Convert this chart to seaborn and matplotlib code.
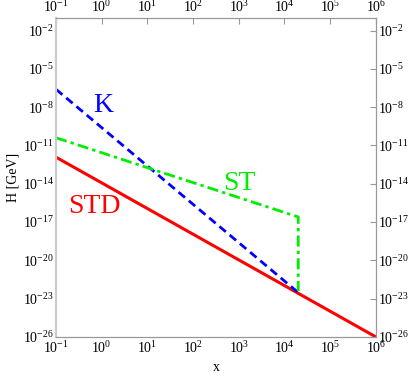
import numpy as np
import matplotlib
matplotlib.use("Agg")
import matplotlib.pyplot as plt
import matplotlib.ticker as mticker
import seaborn as sns
import pandas as pd

# values (log-log)
std_x = [1e-1, 1e6]
std_h = [1.2e-12, 1e-26]
k_x = [1e-1, 2e4]
k_h = [2.5e-7, 3e-23]
st_x = [1e-1, 2e4, 2e4]
st_h = [4e-11, 2.5e-17, 4e-23]

XTICKS = [10.0**i for i in range(-1, 7)]
YTICKS = [10.0**i for i in range(-26, 0, 3)]
GRAY = "#999999"

sns.set_style("white")
plt.rcParams["font.family"] = ["Liberation Serif", "DejaVu Serif"]
plt.rcParams["mathtext.fontset"] = "stix"

fig = plt.figure(figsize=(4.09, 3.79), dpi=100)
ax = fig.add_axes([0.137, 0.111, 0.782, 0.842])
ax.set_xscale("log")
ax.set_yscale("log")

std = pd.DataFrame({"x": std_x, "H": std_h})
k = pd.DataFrame({"x": k_x, "H": k_h})
st = pd.DataFrame({"x": st_x, "H": st_h})

sns.lineplot(data=std, x="x", y="H", ax=ax, color="#ff0000", lw=2.2,
             sort=False, estimator=None)
sns.lineplot(data=k, x="x", y="H", ax=ax, color="#0000ff", lw=2.0,
             sort=False, estimator=None, linestyle=(0, (3, 1.8)))
sns.lineplot(data=st, x="x", y="H", ax=ax, color="#00ee00", lw=2.0,
             sort=False, estimator=None, linestyle=(0, (4, 1.5, 1.2, 1.5)))

ax.set_xlim(1e-1, 1e6)
ax.set_ylim(1e-26, 1e-1)
ax.xaxis.set_major_locator(mticker.FixedLocator(XTICKS))
ax.yaxis.set_major_locator(mticker.FixedLocator(YTICKS))
ax.xaxis.set_minor_locator(mticker.NullLocator())
ax.yaxis.set_minor_locator(mticker.NullLocator())
ax.xaxis.set_major_formatter(mticker.LogFormatterSciNotation())
ax.yaxis.set_major_formatter(mticker.LogFormatterSciNotation())
ax.tick_params(which="major", direction="in", length=4, width=0.8, color=GRAY,
               labelsize=10, labelcolor="black", top=True, right=True,
               labeltop=True, labelright=True)
ax.tick_params(axis="x", pad=2)
ax.tick_params(axis="y", pad=1.5)
for side in ["top", "right", "bottom"]:
    ax.spines[side].set_color(GRAY)
    ax.spines[side].set_linewidth(0.9)
ax.spines["left"].set_color("#cccccc")
ax.spines["left"].set_linewidth(1.6)

ax.set_xlabel("x", fontsize=10, labelpad=4, color="black")
ax.set_ylabel("H [GeV]", fontsize=10, labelpad=2, color="black")

ax.text(0.65, 4e-9, "K", color="#0000ff", fontsize=20)
ax.text(450, 3e-15, "ST", color="#00ee00", fontsize=20)
ax.text(0.18, 5e-17, "STD", color="#ff0000", fontsize=20)

plt.savefig("out.png", dpi=100)
